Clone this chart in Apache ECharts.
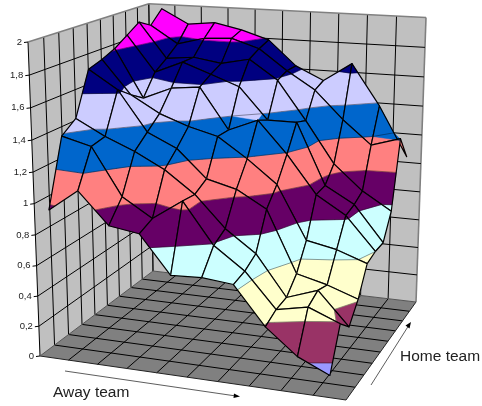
<!DOCTYPE html>
<html>
<head>
<meta charset="utf-8">
<style>html,body{margin:0;padding:0;background:#fff}#chart{width:482px;height:406px}</style>
<script src="https://cdn.jsdelivr.net/npm/echarts@6/dist/echarts.min.js"></script>
</head>
<body>
<div id="chart"></div>
<script>
// Goal rate by home team strength (rows) and away team strength (columns).
var home0 = [0.97,1.11,0.91,0.88,0.64,0.65,0.63,0.39,0.23,0.14];
var home1 = [1.39,1.34,1.04,0.92,1.05,0.79,0.65,0.43,0.47,0.39];
var home2 = [1.46,1.36,1.28,1.18,1.04,0.84,0.70,0.44,0.51,0.30];
var home3 = [1.74,1.62,1.36,1.27,1.09,1.04,0.93,0.53,0.48,0.41];
var home4 = [1.77,1.55,1.44,1.37,1.32,1.19,1.04,0.69,0.65,0.58];
var home5 = [1.81,1.49,1.57,1.59,1.32,1.40,1.19,0.94,0.82,0.60];
var home6 = [1.87,1.63,1.71,1.64,1.57,1.36,1.36,0.95,0.84,0.60];
var home7 = [1.93,1.69,1.71,1.68,1.72,1.59,1.33,1.05,0.88,0.76];
var home8 = [1.88,1.76,1.81,1.82,1.76,1.62,1.50,1.31,1.15,1.21];
var home9 = [1.97,1.87,1.89,1.85,1.79,1.62,1.53,1.66,1.38,1.04];
var heights = [home0,home1,home2,home3,home4,home5,home6,home7,home8,home9];

var valueLevels = [0,0.2,0.4,0.6,0.8,1,1.2,1.4,1.6,1.8,2];
var valueLabels = ['0','0,2','0,4','0,6','0,8','1','1,2','1,4','1,6','1,8','2'];
var bandColors = ['#9999ff','#993366','#ffffcc','#ccffff','#660066','#ff8080','#0066cc','#ccccff','#000080','#ff00ff'];

var awayCells = 10, homeCells = 9, valueMax = 2;
var wallColor = '#c0c0c0', floorColor = '#808080', edgeColor = '#808080';

// Perspective of the chart box: floor corners and the tops of two upright edges.
var floorBox = [[40,356],[346,400],[416,302],[153,271]];
var topNearLeft = [28,42], topFarRight = [426,17];

function buildCamera() {
  var q = floorBox;
  var dx1=q[1][0]-q[2][0], dx2=q[3][0]-q[2][0], sx=q[0][0]-q[1][0]+q[2][0]-q[3][0];
  var dy1=q[1][1]-q[2][1], dy2=q[3][1]-q[2][1], sy=q[0][1]-q[1][1]+q[2][1]-q[3][1];
  var det=dx1*dy2-dx2*dy1;
  var g=(sx*dy2-dx2*sy)/det, h=(dx1*sy-sx*dy1)/det;
  var a=q[1][0]-q[0][0]+g*q[1][0], b=q[3][0]-q[0][0]+h*q[3][0], c=q[0][0];
  var d=q[1][1]-q[0][1]+g*q[1][1], e=q[3][1]-q[0][1]+h*q[3][1], f=q[0][1];
  var tx=topNearLeft[0], ty=topNearLeft[1], rx=topFarRight[0];
  var r=(a+b+tx-rx*(g+h+1))/(rx-tx);
  var p=tx*(1+r)-c, s=ty*(1+r)-f;
  return {a:a,b:b,c:c,d:d,e:e,f:f,g:g,h:h,p:p,s:s,r:r};
}
var cam = buildCamera();

// away, home in cell units, value in data units
function project(away, home, value) {
  var u=away/awayCells, v=home/homeCells, t=value/valueMax;
  var w=cam.g*u+cam.h*v+1+cam.r*t;
  return [(cam.a*u+cam.b*v+cam.c+cam.p*t)/w, (cam.d*u+cam.e*v+cam.f+cam.s*t)/w];
}

function clipBand(poly, lo, hi) {
  function cut(pts, level, keepAbove) {
    var out=[];
    for (var k=0;k<pts.length;k++) {
      var A=pts[k], B=pts[(k+1)%pts.length];
      var ia=keepAbove?A[2]>=level:A[2]<=level, ib=keepAbove?B[2]>=level:B[2]<=level;
      if (ia) out.push(A);
      if (ia!==ib) {
        var m=(level-A[2])/(B[2]-A[2]);
        out.push([A[0]+(B[0]-A[0])*m, A[1]+(B[1]-A[1])*m, level]);
      }
    }
    return out;
  }
  return cut(cut(poly,lo,true),hi,false);
}

function lineEl(api,p,q,color,width) {
  var P=api.coord(p), Q=api.coord(q);
  return {type:'line',shape:{x1:P[0],y1:P[1],x2:Q[0],y2:Q[1]},style:{stroke:color,lineWidth:width}};
}
function planeEl(api,pts,color) {
  return {type:'polygon',shape:{points:pts.map(function(x){return api.coord(x);})},style:{fill:color}};
}

function renderFrame(params, api) {
  var ch=[], i, j, k;
  var A=awayCells, H=homeCells, V=valueMax;
  ch.push(planeEl(api,[project(0,0,0),project(0,H,0),project(0,H,V),project(0,0,V)],wallColor));
  ch.push(planeEl(api,[project(0,H,0),project(A,H,0),project(A,H,V),project(0,H,V)],wallColor));
  ch.push(planeEl(api,[project(0,0,0),project(A,0,0),project(A,H,0),project(0,H,0)],floorColor));
  for (i=0;i<=H;i++) ch.push(lineEl(api,project(0,i,0),project(0,i,V),i===H?'#555':'#000',i===H?1.4:1));
  for (i=0;i<A;i++) ch.push(lineEl(api,project(i,H,0),project(i,H,V),'#000',1));
  ch.push(lineEl(api,project(A,H,0),project(A,H,V),edgeColor,1.6));
  for (k=1;k<valueLevels.length;k++) {
    var z=valueLevels[k];
    var top=k===valueLevels.length-1;
    ch.push(lineEl(api,project(0,0,z),project(0,H,z),top?edgeColor:'#000',top?1.6:1));
    ch.push(lineEl(api,project(0,H,z),project(A,H,z),top?edgeColor:'#000',top?1.6:1));
  }
  for (i=1;i<A;i++) ch.push(lineEl(api,project(i,0,0),project(i,H,0),'#000',1));
  for (j=1;j<H;j++) ch.push(lineEl(api,project(0,j,0),project(A,j,0),'#000',1));
  ch.push(lineEl(api,project(0,0,0),project(A,0,0),'#222',1));
  ch.push(lineEl(api,project(A,0,0),project(A,H,0),'#222',1));
  ch.push(lineEl(api,project(0,0,0),project(0,H,0),'#555',1));
  ch.push(lineEl(api,project(0,H,0),project(A,H,0),'#555',1));
  for (k=0;k<valueLevels.length;k++) {
    var P=project(0,0,valueLevels[k]), S=api.coord(P);
    ch.push(lineEl(api,[P[0]-4,P[1]+0.5],P,'#000',1));
    ch.push({type:'text',style:{text:valueLabels[k],x:S[0]-6,y:S[1],align:'right',verticalAlign:'middle',
      font:'9.5px "Liberation Sans", Arial, sans-serif',fill:'#222'}});
  }
  return {type:'group',children:ch};
}

// One mesh cell: a filled piece for each value band it crosses, contour edges, then its outline.
function renderCell(params, api) {
  var a=api.value(0), b=api.value(1);
  var x0=a+0.5, x1=a+1.5, y0=b, y1=b+1;
  var quad=[[x0,y0,api.value(2)],[x1,y0,api.value(3)],[x1,y1,api.value(4)],[x0,y1,api.value(5)]];
  var ch=[], contours=[];
  for (var k=0;k<bandColors.length;k++) {
    var lo=valueLevels[k], hi=valueLevels[k+1];
    var piece=clipBand(quad,lo,hi);
    if (piece.length<3) continue;
    var pts=piece.map(function(n){return api.coord(project(n[0],n[1],n[2]));});
    ch.push({type:'polygon',shape:{points:pts},style:{fill:bandColors[k],stroke:bandColors[k],lineWidth:0.5}});
    for (var m=0;m<piece.length;m++) {
      var n1=(m+1)%piece.length;
      if (piece[m][2]===hi && piece[n1][2]===hi) {
        contours.push({type:'line',shape:{x1:pts[m][0],y1:pts[m][1],x2:pts[n1][0],y2:pts[n1][1]},
          style:{stroke:'rgba(0,0,0,0.55)',lineWidth:0.7}});
      }
    }
  }
  ch=ch.concat(contours);
  var outline=quad.map(function(n){return api.coord(project(n[0],n[1],n[2]));});
  ch.push({type:'polygon',shape:{points:outline},style:{fill:'none',stroke:'#000',lineWidth:1.2,lineJoin:'round'}});
  return {type:'group',children:ch};
}

// Far cells are listed first so nearer cells paint over them.
var cells=[];
for (var h=heights.length-2;h>=0;h--) {
  for (var w=0;w<home0.length-1;w++) {
    cells.push([w,h,heights[h][w],heights[h][w+1],heights[h+1][w+1],heights[h+1][w]]);
  }
}

var chart=echarts.init(document.getElementById('chart'),null,{renderer:'canvas'});
chart.setOption({
  animation:false,
  backgroundColor:'#fff',
  grid:{left:0,top:0,width:482,height:406},
  xAxis:{type:'value',min:0,max:482,show:false},
  yAxis:{type:'value',min:0,max:406,inverse:true,show:false},
  graphic:[
    {type:'text',silent:true,style:{text:'Away team',x:53,y:385,font:'15.5px "Liberation Sans", Arial, sans-serif',fill:'#222'}},
    {type:'text',silent:true,style:{text:'Home team',x:400,y:349,font:'15.5px "Liberation Sans", Arial, sans-serif',fill:'#222'}},
    {type:'line',silent:true,shape:{x1:65,y1:371,x2:236,y2:396},style:{stroke:'#333',lineWidth:0.8}},
    {type:'polygon',silent:true,shape:{points:[[240,396.5],[234,393.5],[233.5,398]]},style:{fill:'#000'}},
    {type:'line',silent:true,shape:{x1:371,y1:385,x2:409,y2:325},style:{stroke:'#333',lineWidth:0.8}},
    {type:'polygon',silent:true,shape:{points:[[411,322],[405.5,325.5],[409.5,328.5]]},style:{fill:'#000'}}
  ],
  series:[
    {type:'custom',coordinateSystem:'cartesian2d',silent:true,clip:false,data:[[0,0]],renderItem:renderFrame,z:1},
    {type:'custom',coordinateSystem:'cartesian2d',silent:true,clip:false,data:cells,progressive:0,
     encode:{x:0,y:1},renderItem:renderCell,z:2}
  ]
});
</script>
</body>
</html>
